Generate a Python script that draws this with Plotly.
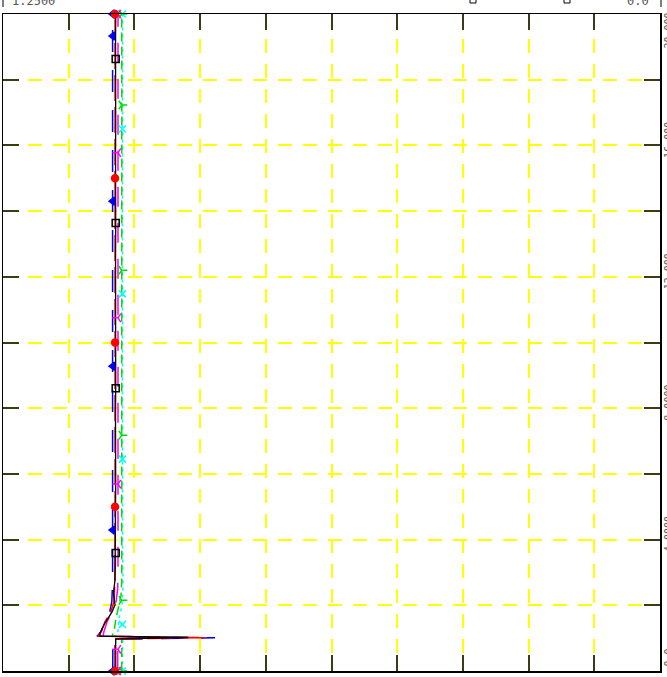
import plotly.graph_objects as go

# ---------------- data (data units) ----------------
x_ticks = [0.0, 0.125, 0.25, 0.375, 0.5, 0.625, 0.75, 0.875, 1.0, 1.125, 1.25]
y_label_vals = [0, 4, 8, 12, 16, 20]
y_label_text = ["0.0", "4.0000", "8.0000", "12.000", "16.000", "20.000"]
top_left_label = "1.2500"
top_right_label = "0.0"

black_y = [0, 0.5, 0.98, 1.02, 1.06, 1.16, 1.46, 1.80, 2.01, 2.37, 2.77, 3.3, 4.0, 4.7, 5.5, 6.3, 7.0,
           7.8, 8.6, 9.4, 10.2, 11.0, 11.8, 12.6, 13.4, 14.2, 15.0, 15.8, 16.6, 17.4, 18.2, 19.0, 19.8, 20.0]
black_x = [1.0356, 1.0356, 1.0356, 0.8980, 1.0654, 1.0654, 1.0559, 1.0426, 1.0369, 1.0400, 1.0369, 1.0366,
           1.0358, 1.0362, 1.0356, 1.0360, 1.0356, 1.0360, 1.0356, 1.0359, 1.0356, 1.0360, 1.0356, 1.0359,
           1.0356, 1.0360, 1.0356, 1.0359, 1.0356, 1.0360, 1.0356, 1.0359, 1.0356, 1.0356]

red_y = [0, 0.5, 0.97, 1.015, 1.06, 1.2, 1.5, 1.8, 2.1, 2.6, 3.2, 5.0, 7.5, 10.0, 12.5, 15.0, 17.5, 20.0]
red_x = [1.0372, 1.0372, 1.0372, 0.8657, 1.0693, 1.0635, 1.0560, 1.0450, 1.0390, 1.0375, 1.0368, 1.0368,
         1.0370, 1.0368, 1.0370, 1.0368, 1.0370, 1.0368]

blue_y = [0, 0.5, 0.97, 1.01, 1.06, 1.2, 1.5, 1.8, 2.1, 2.5, 3.0, 5.0, 7.5, 10.0, 12.5, 15.0, 17.5, 20.0]
blue_x = [1.0412, 1.0412, 1.0410, 0.8467, 1.0712, 1.0630, 1.0570, 1.0470, 1.0430, 1.0420, 1.0415, 1.0415,
          1.0415, 1.0415, 1.0415, 1.0415, 1.0415, 1.0415]

magenta_y = [0, 0.5, 0.97, 1.01, 1.06, 1.2, 1.5, 1.8, 2.1, 2.5, 3.0, 5.0, 7.5, 10.0, 12.5, 15.0, 17.5, 20.0]
magenta_x = [1.0318, 1.0318, 1.0318, 0.9050, 1.0597, 1.0580, 1.0520, 1.0430, 1.0350, 1.0318, 1.0312, 1.0312,
             1.0312, 1.0312, 1.0312, 1.0312, 1.0312, 1.0312]

green_y = [0, 0.5, 0.97, 1.01, 1.06, 1.2, 1.6, 2.3, 2.77, 4.0, 6.0, 8.0, 10.0, 12.0, 14.0, 16.0, 18.0, 20.0]
green_x = [1.0242, 1.0242, 1.0242, 0.9513, 1.0426, 1.0388, 1.0350, 1.0255, 1.0240, 1.0242, 1.0240, 1.0242,
           1.0240, 1.0242, 1.0240, 1.0242, 1.0240, 1.0242]

cyan_y = [0, 0.5, 0.97, 1.01, 1.06, 1.2, 1.6, 2.0, 2.6, 4.0, 6.0, 8.0, 10.0, 12.0, 14.0, 16.0, 18.0, 20.0]
cyan_x = [1.0228, 1.0228, 1.0228, 0.9850, 1.0369, 1.0312, 1.0293, 1.0236, 1.0217, 1.0225, 1.0228, 1.0225,
          1.0228, 1.0225, 1.0228, 1.0225, 1.0228, 1.0225]

# marker positions (data units)
red_mk_y = [0, 5.0, 10.0, 15.0, 20.0]
red_mk_x = [1.0368, 1.0368, 1.0368, 1.0368, 1.0368]
blue_mk_y = [0, 4.29, 9.28, 14.3, 19.33, 20.0]
blue_mk_x = [1.0415, 1.0415, 1.0415, 1.0415, 1.0415, 1.0415]
black_mk_y = [3.59, 8.61, 13.64, 18.63]
black_mk_x = [1.0356, 1.0356, 1.0356, 1.0356]
magenta_mk_y = [0, 0.66, 5.69, 10.75, 15.78, 20.0]
magenta_mk_x = [1.0312, 1.0312, 1.0312, 1.0312, 1.0312, 1.0312]
green_mk_y = [0, 2.15, 7.18, 12.2, 17.23, 20.0]
green_mk_x = [1.0242, 1.0242, 1.0242, 1.0242, 1.0242, 1.0242]
cyan_mk_y = [0, 1.42, 6.45, 11.48, 16.5, 20.0]
cyan_mk_x = [1.0228, 1.0228, 1.0228, 1.0228, 1.0228, 1.0228]

# ---------------- figure ----------------
fig = go.Figure()

series = [
    (cyan_x, cyan_y, "#00ffff", "3px,4px", 1.5, cyan_mk_x, cyan_mk_y, "x-thin-open"),
    (green_x, green_y, "#00dd00", "9px,5px", 1.5, green_mk_x, green_mk_y, "y-right-open"),
    (magenta_x, magenta_y, "#ff00ff", "20px,16px", 1.5, magenta_mk_x, magenta_mk_y, "y-left-open"),
    (blue_x, blue_y, "#0000ff", "22px,18px", 1.5, blue_mk_x, blue_mk_y, "triangle-left"),
    (red_x, red_y, "#ff0000", "26px,6px", 1.5, red_mk_x, red_mk_y, "circle"),
    (black_x, black_y, "#000000", "solid", 1.3, black_mk_x, black_mk_y, "square-open"),
]

for xs, ys, col, dash, w, mx, my, sym in series:
    fig.add_trace(go.Scatter(x=xs, y=ys, mode="lines",
                             line=dict(color=col, width=w, dash=dash),
                             showlegend=False, hoverinfo="skip"))
for xs, ys, col, dash, w, mx, my, sym in series:
    fig.add_trace(go.Scatter(x=mx, y=my, mode="markers", cliponaxis=False,
                             marker=dict(symbol=sym, size=7, color=col,
                                         line=dict(color=col, width=1.5)),
                             showlegend=False, hoverinfo="skip"))

axis_common = dict(
    showgrid=True, gridcolor="#ffff00", gridwidth=2, griddash="14px,11px",
    ticks="inside", ticklen=16, tickwidth=2, tickcolor="#3c3c14",
    showline=True, linecolor="#000000", linewidth=1.5, mirror="ticks",
    showticklabels=False, zeroline=False, fixedrange=True,
)
fig.update_xaxes(range=[1.25, 0], tickvals=x_ticks, **axis_common)
fig.update_yaxes(range=[0, 20], dtick=2, tick0=0, **axis_common)

ann = []
ann.append(dict(text=top_left_label, xref="paper", yref="paper", x=0.0107, y=1.006,
                xanchor="left", yanchor="bottom", showarrow=False,
                font=dict(family="DejaVu Sans Mono", size=12, color="#555555")))
ann.append(dict(text=top_right_label, xref="paper", yref="paper", x=0.9863, y=1.006,
                xanchor="right", yanchor="bottom", showarrow=False,
                font=dict(family="DejaVu Sans Mono", size=12, color="#555555")))
for v, t in zip(y_label_vals, y_label_text):
    shift = -14
    if v == 20:
        shift = -36
    if v == 0:
        shift = 3
    ann.append(dict(text=t, xref="paper", yref="y", x=1.0015, y=v, yshift=shift,
                    xanchor="left", yanchor="bottom", textangle=-90, showarrow=False,
                    font=dict(family="DejaVu Sans Mono", size=10, color="#555555")))

def px_x(p):
    return (p - 3) / 657.0

def px_y(p):
    return (671 - p) / 657.0

shapes = [
    dict(type="line", xref="paper", yref="paper", x0=px_x(3), x1=px_x(3), y0=px_y(7), y1=px_y(-2),
         line=dict(color="#555555", width=1.5)),
    dict(type="line", xref="paper", yref="paper", x0=px_x(661), x1=px_x(661), y0=px_y(7), y1=px_y(-2),
         line=dict(color="#555555", width=1.5)),
    dict(type="rect", xref="paper", yref="paper", x0=px_x(470), x1=px_x(476), y0=px_y(3), y1=px_y(-3),
         line=dict(color="#000000", width=1)),
    dict(type="rect", xref="paper", yref="paper", x0=px_x(564), x1=px_x(570), y0=px_y(3), y1=px_y(-3),
         line=dict(color="#000000", width=1)),
]

fig.update_layout(
    width=667, height=677, autosize=False,
    margin=dict(l=3, r=7, t=14, b=6, pad=0, autoexpand=False),
    plot_bgcolor="#ffffff", paper_bgcolor="#ffffff",
    annotations=ann, shapes=shapes, showlegend=False,
)

fig.write_html("out.html", config={"displayModeBar": False, "staticPlot": True},
               post_script="document.body.style.margin='0';document.body.style.overflow='hidden';")
